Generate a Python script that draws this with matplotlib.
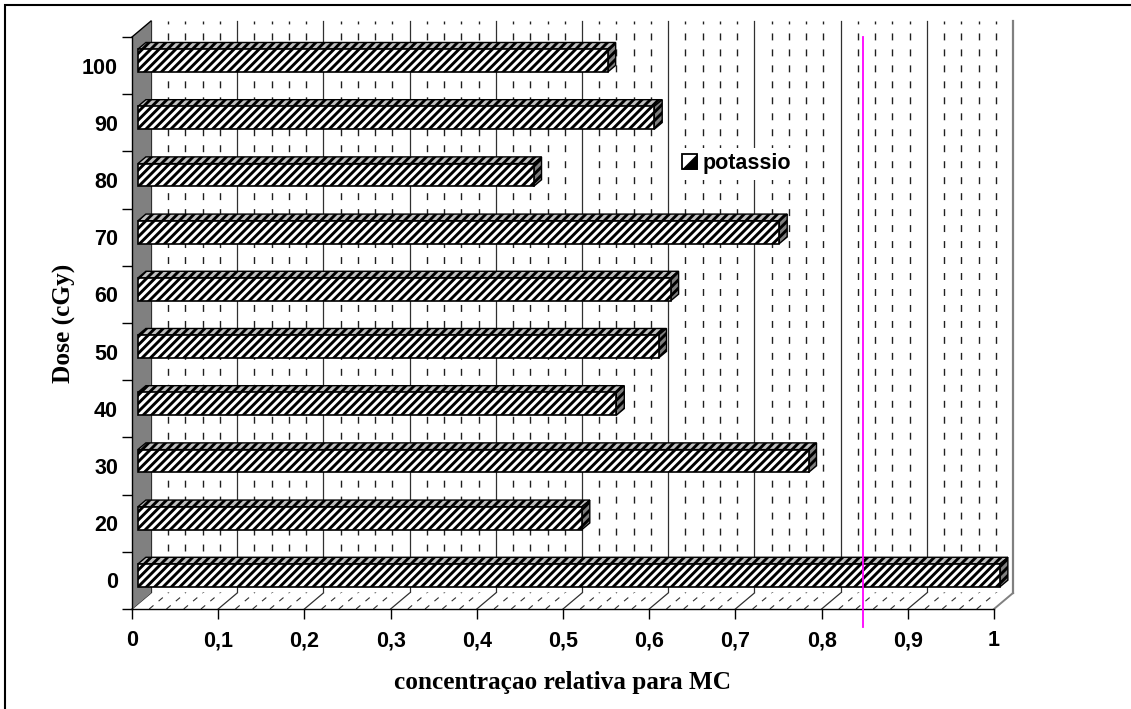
import matplotlib
matplotlib.use("Agg")
import matplotlib.pyplot as plt
import numpy as np
from matplotlib.patches import Polygon, Rectangle
from matplotlib.legend_handler import HandlerBase
from matplotlib.lines import Line2D

# ---- data -------------------------------------------------------------
doses = ["0", "20", "30", "40", "50", "60", "70", "80", "90", "100"]
potassio = [1.0, 0.515, 0.778, 0.555, 0.604, 0.618, 0.744, 0.459, 0.599, 0.545]
x_ticks = [0.0, 0.1, 0.2, 0.3, 0.4, 0.5, 0.6, 0.7, 0.8, 0.9, 1.0]
x_tick_labels = ["0", "0,1", "0,2", "0,3", "0,4", "0,5", "0,6", "0,7", "0,8", "0,9", "1"]
series_label = "potassio"
x_title = "concentraçao relativa para MC"
y_title = "Dose (cGy)"
reference_x = 0.848

plt.rcParams["hatch.linewidth"] = 2.1
plt.rcParams["hatch.color"] = "black"
BAR_HATCH = "////"

W, H = 1131, 709
fig = plt.figure(figsize=(W / 100, H / 100), dpi=100)
fig.patch.set_facecolor("white")

# front plane of the 3-D box
AX_L, AX_B, AX_W, AX_H = 132, 100, 862, 572
ax = fig.add_axes([AX_L / W, AX_B / H, AX_W / W, AX_H / H])
n = len(doses)
ax.set_xlim(0, 1)
ax.set_ylim(-0.5, n - 0.5)
ax.patch.set_visible(False)

px_x = AX_W / 1.0          # pixels per x unit
px_y = AX_H / n            # pixels per category
DEPTH = (19.0, 16.0)       # depth offset of the box, in pixels


def shift(d):
    return d * DEPTH[0] / px_x, d * DEPTH[1] / px_y


def pt(v, c, d):
    sx, sy = shift(d)
    return (v + sx, c + sy)


y0, y1 = -0.5, n - 0.5

# back wall
ax.add_patch(Polygon([pt(0, y0, 1), pt(1, y0, 1), pt(1, y1, 1), pt(0, y1, 1)],
                     closed=True, facecolor="white", edgecolor="none",
                     zorder=0, clip_on=False))

# wall gridlines: solid every 0.1, dashed every 0.02
for k in range(51):
    v = k * 0.02
    a, b = pt(v, y1, 1), pt(v, y0, 1)
    if k == 50:
        ax.add_line(Line2D([a[0], b[0]], [a[1], b[1]], color="#808080", lw=1.6,
                           zorder=1, clip_on=False))
    elif k % 5 == 0:
        ax.add_line(Line2D([a[0], b[0]], [a[1], b[1]], color="#303030", lw=0.9,
                           zorder=1, clip_on=False))
    else:
        ax.add_line(Line2D([a[0], b[0]], [a[1], b[1]], color="#202020", lw=1.0,
                           linestyle=(2.9, (5.0, 6.5)), zorder=1, clip_on=False))

# floor
ax.add_patch(Polygon([pt(0, y0, 0), pt(1, y0, 0), pt(1, y0, 1), pt(0, y0, 1)],
                     closed=True, facecolor="white", edgecolor="none",
                     zorder=2, clip_on=False))
for k in range(51):
    v = k * 0.02
    a, b = pt(v, y0, 0), pt(v, y0, 1)
    if k == 50:
        ax.add_line(Line2D([a[0], b[0]], [a[1], b[1]], color="#808080", lw=1.4,
                           zorder=2.5, clip_on=False))
    elif k % 5 == 0:
        ax.add_line(Line2D([a[0], b[0]], [a[1], b[1]], color="#303030", lw=0.9,
                           zorder=2.5, clip_on=False))
    else:
        ax.add_line(Line2D([a[0], b[0]], [a[1], b[1]], color="#303030", lw=0.8,
                           linestyle=(0, (5.0, 6.0)), zorder=2.5, clip_on=False))

# left side wall
ax.add_patch(Polygon([pt(0, y0, 0), pt(0, y1, 0), pt(0, y1, 1), pt(0, y0, 1)],
                     closed=True, facecolor="#808080", edgecolor="none",
                     zorder=3, clip_on=False))
a, b = pt(0, y1, 0), pt(0, y1, 1)
ax.add_line(Line2D([a[0], b[0]], [a[1], b[1]], color="black", lw=1.0,
                   zorder=3.5, clip_on=False))

# 3-D bars
BAR_H = 0.4
D_FRONT, D_BACK = 0.31, 0.73
sxf, syf = shift(D_FRONT)
sxb, syb = shift(D_BACK)
cats = np.arange(n)
for c, v in zip(cats, potassio):
    top = c + BAR_H / 2
    bot = c - BAR_H / 2
    ax.add_patch(Polygon([(sxf, top + syf), (v + sxf, top + syf),
                          (v + sxb, top + syb), (sxb, top + syb)],
                         closed=True, facecolor="#c0c0c0", edgecolor="black",
                         hatch=BAR_HATCH, lw=1.0, zorder=4, clip_on=False))
    ax.add_patch(Polygon([(v + sxf, bot + syf), (v + sxf, top + syf),
                          (v + sxb, top + syb), (v + sxb, bot + syb)],
                         closed=True, facecolor="#808080", edgecolor="black",
                         hatch=BAR_HATCH, lw=1.0, zorder=4, clip_on=False))
ax.barh(cats + syf, potassio, left=sxf, height=BAR_H, color="white",
        edgecolor="black", hatch=BAR_HATCH, linewidth=1.2, zorder=5, clip_on=False)

# axes, ticks and labels
for s in ("top", "right"):
    ax.spines[s].set_visible(False)
for s in ("left", "bottom"):
    ax.spines[s].set_linewidth(1.0)
    ax.spines[s].set_zorder(3.6)

tick_font = dict(family="Liberation Sans", weight="bold", size=15.5)
title_font = dict(family="Liberation Serif", weight="bold", size=18.2)

ax.set_xticks(x_ticks)
ax.set_xticklabels(x_tick_labels, fontdict=tick_font)
ax.tick_params(axis="x", direction="out", length=7.2, width=1.0, pad=8.2)

ax.set_yticks(cats)
ax.set_yticklabels(doses, fontdict=tick_font)
ax.set_yticks(np.arange(n + 1) - 0.5, minor=True)
ax.tick_params(axis="y", which="major", length=0, pad=10)
ax.tick_params(axis="y", which="minor", direction="out", length=7.2, width=1.0)

ax.set_xlabel(x_title, fontdict=title_font)
ax.xaxis.set_label_coords(0.5, (H - 682 - AX_B) / AX_H)
ax.xaxis.label.set_va("center")
ax.set_ylabel(y_title, fontdict=title_font)
ax.yaxis.set_label_coords((64 - AX_L) / AX_W, 0.5)
ax.yaxis.label.set_va("center")


# legend
class KeyHandler(HandlerBase):
    def create_artists(self, legend, orig_handle, xdescent, ydescent,
                       width, height, fontsize, trans):
        s = height
        x0 = -xdescent + (width - s) / 2
        yb = -ydescent
        sq = Rectangle((x0, yb), s, s, facecolor="white", edgecolor="black",
                       lw=1.3, transform=trans)
        tri = Polygon([(x0, yb), (x0 + s, yb), (x0 + s, yb + s)], closed=True,
                      facecolor="black", edgecolor="black", lw=0.5,
                      transform=trans)
        return [sq, tri]


key = Rectangle((0, 0), 1, 1)
leg = ax.legend([key], [series_label], handler_map={Rectangle: KeyHandler()},
                loc="upper left", bbox_to_anchor=(677 / W, 1 - 148 / H),
                bbox_transform=fig.transFigure, frameon=True, fancybox=False,
                borderpad=0.25, borderaxespad=0, handlelength=0.7,
                handleheight=0.7, handletextpad=0.25,
                prop=dict(family="Liberation Sans", weight="bold", size=15.5))
leg.get_frame().set_facecolor("white")
leg.get_frame().set_edgecolor("none")
leg.get_frame().set_alpha(1)
leg.set_zorder(8)

# vertical reference line
ax.plot([reference_x, reference_x], [1.0, (H - 627 - AX_B) / AX_H],
        transform=ax.get_xaxis_transform(), color="#ff00ff", lw=1.3,
        clip_on=False, zorder=9)

# chart-area border
fig.add_artist(Rectangle((5 / W, -0.1), 1.2, (H - 5) / H + 0.1,
                         transform=fig.transFigure, fill=False,
                         edgecolor="black", lw=1.5))

fig.savefig("out.png", dpi=100)
